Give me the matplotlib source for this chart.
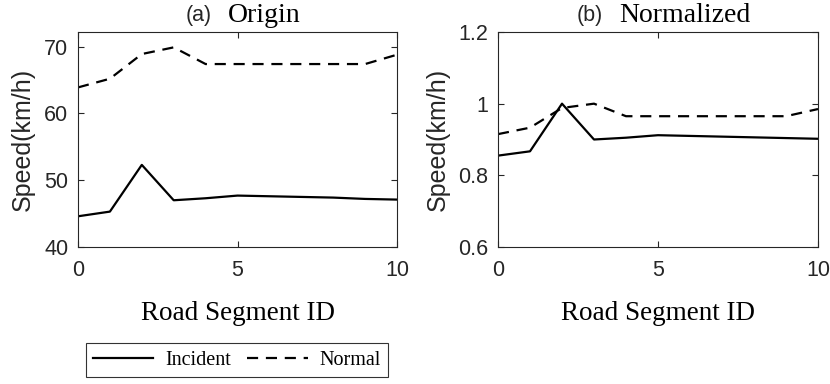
import matplotlib
matplotlib.use("Agg")
import matplotlib.pyplot as plt
from matplotlib.lines import Line2D

# --------------------------------------------------------------------
# Data
# --------------------------------------------------------------------

segment_ids = [0, 1, 2, 3, 4, 5, 6, 7, 8, 9, 10]

incident_origin = [44.6, 45.3, 52.3, 47.0, 47.3, 47.7, 47.6, 47.5, 47.4, 47.2, 47.1]
normal_origin = [63.9, 65.2, 68.9, 69.9, 67.4, 67.4, 67.4, 67.4, 67.4, 67.4, 68.8]

incident_norm = [0.855, 0.867, 1.0, 0.900, 0.905, 0.912, 0.910, 0.908, 0.906, 0.904, 0.902]
normal_norm = [0.915, 0.933, 0.988, 1.0, 0.965, 0.965, 0.965, 0.965, 0.965, 0.965, 0.985]

SANS = "Liberation Sans"
SERIF = "Liberation Serif"
DARK = "#262626"

fig = plt.figure(figsize=(8.3, 3.84), dpi=100)

ax1 = fig.add_axes([78 / 830, 1 - 247 / 384, 319 / 830, 215 / 384])
ax2 = fig.add_axes([498 / 830, 1 - 247 / 384, 320 / 830, 215 / 384])


def style_axis(ax, ylim, yticks, yticklabels, ylab_x):

    ax.set_xlim(0, 10)
    ax.set_ylim(*ylim)
    ax.set_xticks([0, 5, 10])
    ax.set_yticks(yticks)
    ax.set_yticklabels(yticklabels)
    ax.tick_params(direction="in", top=True, right=True, length=4,
                   width=0.8, labelsize=15.5, color=DARK)
    ax.tick_params(axis="x", pad=9)
    ax.tick_params(axis="y", pad=7)
    for lab in ax.get_xticklabels() + ax.get_yticklabels():
        lab.set_fontfamily(SANS)
        lab.set_color(DARK)
    for spine in ax.spines.values():
        spine.set_linewidth(0.8)
        spine.set_color(DARK)
    ax.set_ylabel("Speed(km/h)", fontsize=18, family=SANS, color=DARK, va="center")
    ax.yaxis.set_label_coords(ylab_x, 0.5)
    ax.set_xlabel("Road Segment ID", fontsize=19.5, family=SERIF, va="center")
    ax.xaxis.set_label_coords(0.5, -(313 - 247) / 215)


ax1.plot(segment_ids, incident_origin, color="black", linewidth=1.6)
ax1.plot(segment_ids, normal_origin, color="black", linewidth=1.6, linestyle=(0, (5, 3.5)))
style_axis(ax1, (40, 72.2), [40, 50, 60, 70], ["40", "50", "60", "70"], (23 - 78) / 319)

ax2.plot(segment_ids, incident_norm, color="black", linewidth=1.6)
ax2.plot(segment_ids, normal_norm, color="black", linewidth=1.6, linestyle=(0, (5, 3.5)))
style_axis(ax2, (0.6, 1.2), [0.6, 0.8, 1.0, 1.2], ["0.6", "0.8", "1", "1.2"], (438 - 498) / 320)

# titles: sans-serif tag + serif name
for tag, name, xc in [("(a)", "Origin", 212), ("(b)", "Normalized", 603)]:
    fig.text(xc / 830, 1 - 16 / 384, tag, family=SANS, fontsize=15.5,
             ha="right", va="center", color=DARK)
    fig.text((xc + 16) / 830, 1 - 16 / 384, name, family=SERIF, fontsize=20,
             ha="left", va="center")

handles = [
    Line2D([], [], color="black", linewidth=1.6),
    Line2D([], [], color="black", linewidth=1.6, linestyle=(0, (5, 3.5))),
]
leg = fig.legend(handles, ["Incident", "Normal"], ncol=2, loc="center",
                 bbox_to_anchor=(237 / 830, 1 - 360 / 384),
                 prop={"family": SERIF, "size": 14.5}, frameon=True,
                 fancybox=False, edgecolor="black", handlelength=3.0,
                 columnspacing=0.8, handletextpad=0.6, borderpad=0.35)
leg.get_frame().set_linewidth(0.8)

fig.savefig("out.png", dpi=100)
